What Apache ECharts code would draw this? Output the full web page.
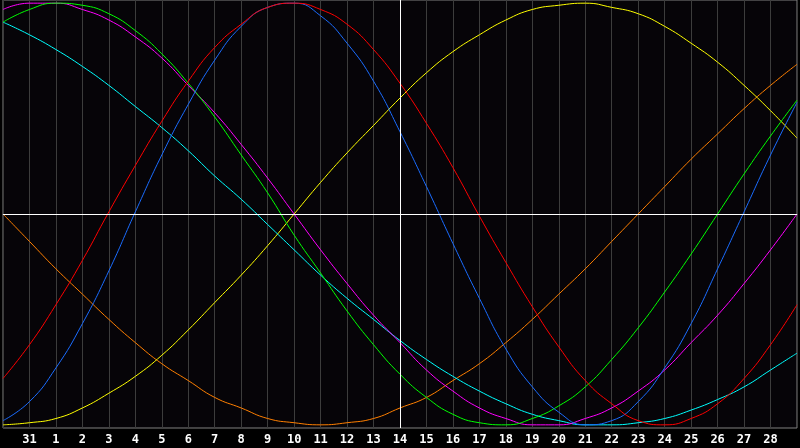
<!DOCTYPE html>
<html>
<head>
<meta charset="utf-8">
<script src="https://cdn.jsdelivr.net/npm/echarts@6/dist/echarts.min.js"></script>
<style>
  html, body { margin: 0; padding: 0; background: #000; }
  #chart { width: 800px; height: 448px; }
</style>
</head>
<body>
<div id="chart"></div>
<script>
// day labels, first and last sit on the frame and are not printed
const days = ['30', '31', '1', '2', '3', '4', '5', '6', '7', '8', '9', '10', '11', '12', '13',
  '14', '15', '16', '17', '18', '19', '20', '21', '22', '23', '24', '25', '26', '27', '28', '29']
const today = '14'

const red = [-0.78, -0.62, -0.43, -0.22, 0.01, 0.23, 0.44, 0.63, 0.79, 0.90, 0.98, 1.00, 0.97, 0.90, 0.78,
  0.62, 0.43, 0.22, -0.01, -0.23, -0.44, -0.63, -0.79, -0.90, -0.98, -1.00, -0.97, -0.90, -0.78, -0.62, -0.43]
const blue = [-0.98, -0.89, -0.73, -0.52, -0.27, 0.01, 0.28, 0.52, 0.73, 0.89, 0.98, 1.00, 0.94, 0.81, 0.63,
  0.39, 0.13, -0.14, -0.40, -0.64, -0.82, -0.94, -1.00, -0.98, -0.89, -0.73, -0.52, -0.26, 0.01, 0.28, 0.53]
const green = [0.91, 0.97, 1.00, 0.99, 0.95, 0.87, 0.76, 0.62, 0.46, 0.28, 0.10, -0.10, -0.28, -0.46, -0.62,
  -0.76, -0.87, -0.95, -0.99, -1.00, -0.97, -0.91, -0.82, -0.69, -0.54, -0.37, -0.19, 0.00, 0.19, 0.37, 0.54]
const magenta = [0.97, 1.00, 1.00, 0.97, 0.92, 0.84, 0.74, 0.61, 0.48, 0.33, 0.17, 0.00, -0.17, -0.33, -0.48,
  -0.61, -0.74, -0.84, -0.92, -0.97, -1.00, -1.00, -0.97, -0.92, -0.84, -0.74, -0.61, -0.48, -0.33, -0.17, 0.00]
const cyan = [0.91, 0.85, 0.78, 0.70, 0.61, 0.51, 0.41, 0.30, 0.18, 0.07, -0.05, -0.17, -0.29, -0.40, -0.50,
  -0.60, -0.69, -0.77, -0.84, -0.90, -0.95, -0.98, -1.00, -1.00, -0.99, -0.97, -0.93, -0.88, -0.82, -0.74, -0.66]
const yellow = [-1.00, -0.99, -0.97, -0.92, -0.85, -0.77, -0.67, -0.55, -0.42, -0.29, -0.15, 0.00, 0.15, 0.29, 0.42,
  0.55, 0.67, 0.77, 0.85, 0.92, 0.97, 0.99, 1.00, 0.98, 0.95, 0.89, 0.81, 0.72, 0.61, 0.49, 0.36]
const orange = [0.00, -0.13, -0.26, -0.38, -0.50, -0.61, -0.71, -0.79, -0.87, -0.92, -0.97, -0.99, -1.00, -0.99, -0.97,
  -0.92, -0.87, -0.79, -0.71, -0.61, -0.50, -0.38, -0.26, -0.13, 0.00, 0.13, 0.26, 0.38, 0.50, 0.61, 0.71]

const curves = [
  { data: orange, color: '#ff7f00' },
  { data: yellow, color: '#ffff00' },
  { data: cyan, color: '#00ffff' },
  { data: magenta, color: '#ff00ff' },
  { data: green, color: '#00ff00' },
  { data: blue, color: '#1a6cff' },
  { data: red, color: '#ff0000' }
]

const chart = echarts.init(document.getElementById('chart'))

const series = curves.map(c => ({
  type: 'line',
  data: c.data,
  smooth: true,
  symbol: 'none',
  silent: true,
  lineStyle: { color: c.color, width: 1 },
  z: 3
}))

// white zero line and today marker
series.push({
  type: 'line',
  data: [],
  silent: true,
  markLine: {
    silent: true,
    symbol: 'none',
    label: { show: false },
    lineStyle: { color: '#ffffff', width: 1, type: 'solid' },
    data: [{ yAxis: 0 }, { xAxis: today }]
  },
  z: 2
})

chart.setOption({
  backgroundColor: '#000000',
  animation: false,
  grid: {
    left: 0, right: 1, top: 0, bottom: 20,
    show: true,
    backgroundColor: '#060408',
    borderColor: '#808080',
    borderWidth: 1
  },
  xAxis: {
    type: 'category',
    data: days,
    boundaryGap: false,
    axisLine: { lineStyle: { color: '#808080', width: 1 } },
    axisTick: { show: false },
    axisLabel: {
      interval: 0,
      margin: 6,
      color: '#ffffff',
      fontFamily: 'DejaVu Sans Mono',
      fontWeight: 'bold',
      fontSize: 12,
      formatter: (v, i) => (i === 0 || i === days.length - 1) ? '' : v
    },
    splitLine: { show: true, lineStyle: { color: '#3c3c3c', width: 1 } }
  },
  yAxis: {
    type: 'value',
    min: -1.015,
    max: 1.015,
    axisLine: { show: false },
    axisTick: { show: false },
    axisLabel: { show: false },
    splitLine: { show: false }
  },
  series: series
})
</script>
</body>
</html>
